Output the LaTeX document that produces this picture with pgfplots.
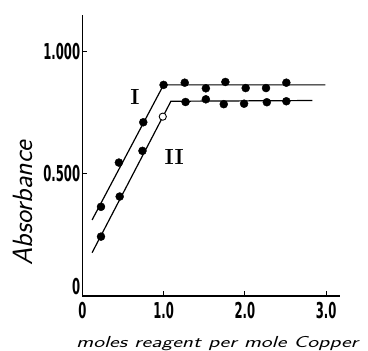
\documentclass[border=0pt]{standalone}
\usepackage{fontspec}
\usepackage{graphicx}
\usepackage{pgfplots}
\pgfplotsset{compat=1.18}
\newfontfamily\tickfont{DejaVu Sans}
\newcommand{\tl}[1]{\scalebox{0.53}[1]{#1}}
\begin{document}
\begin{tikzpicture}
\useasboundingbox (-82.3bp,-55bp) rectangle (285.7bp,296bp);
\begin{axis}[at={(0,0)}, anchor=south west, scale only axis,
  width=257.7bp, height=281bp,
  xmin=0, xmax=3.17, ymin=0, ymax=1.15,
  axis x line=bottom, axis y line=left,
  axis line style={-, line width=1.1bp},
  tick align=inside, major tick length=5bp,
  tick style={line width=0.8bp, black},
  xtick={0,1,2,3}, xticklabels={\tl{0},\tl{1.0},\tl{2.0},\tl{3.0}},
  ytick={0.5,1}, yticklabels={\tl{0.500},\tl{1.000}},
  extra y ticks={0}, extra y tick labels={\tl{0}},
  extra y tick style={yticklabel style={yshift=9bp}},
  tick label style={font=\tickfont\bfseries\fontsize{22}{22}\selectfont},
  xticklabel style={yshift=-4bp, inner sep=2bp},
  yticklabel style={xshift=0bp, inner sep=2bp},
  clip=false,
]
% line I
\addplot[black, line width=1.2bp] coordinates {(0.12,0.311) (1.0,0.864) (2.99,0.864)};
% line II
\addplot[black, line width=1.2bp] coordinates {(0.12,0.177) (1.09,0.797) (2.83,0.800)};
% points I
\addplot[only marks, mark=*, mark size=4bp, mark options={fill=black, draw=black}] coordinates {
(0.23,0.365) (0.45,0.546) (0.75,0.711) (1.00,0.864) (1.26,0.873) (1.52,0.850) (1.76,0.876) (2.01,0.851) (2.26,0.851) (2.51,0.873)};
% points II
\addplot[only marks, mark=*, mark size=4bp, mark options={fill=black, draw=black}] coordinates {
(0.23,0.243) (0.46,0.407) (0.74,0.594) (1.27,0.794) (1.52,0.805) (1.74,0.785) (1.99,0.787) (2.27,0.793) (2.51,0.797)};
\addplot[only marks, mark=*, mark size=3.6bp, mark options={fill=white, draw=black, line width=0.9bp}] coordinates {(0.99,0.734)};
\node[font=\bfseries\fontsize{22}{22}\selectfont] at (axis cs:0.648,0.815) {I};
\node[font=\bfseries\fontsize{22}{22}\selectfont] at (axis cs:1.13,0.569) {II};
\node[font=\sffamily\itshape\fontsize{28}{28}\selectfont, rotate=90] at (rel axis cs:-0.23,0.331) {Absorbance};
\node[font=\sffamily\itshape\fontsize{16}{16}\selectfont] at (rel axis cs:0.523,-0.170) {\scalebox{1.44}[1]{moles reagent per mole Copper}};
\end{axis}
\end{tikzpicture}
\end{document}
